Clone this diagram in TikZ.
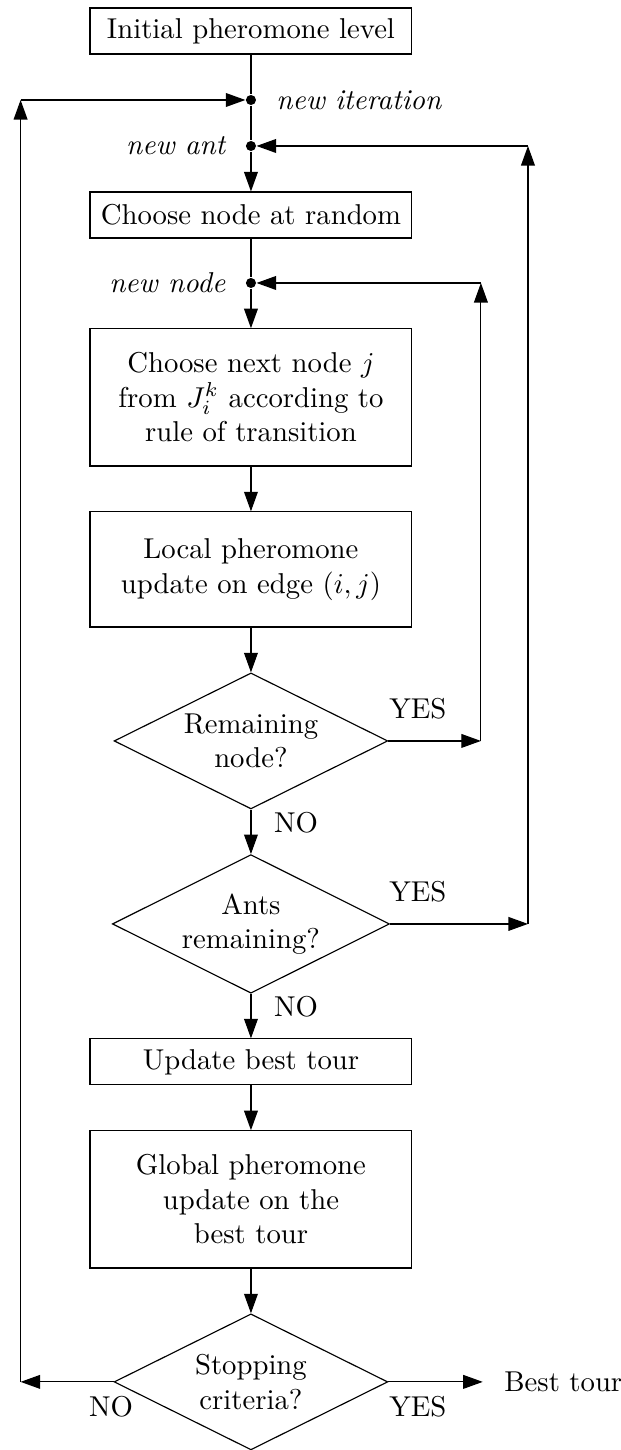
\documentclass[tikz,border=0pt]{standalone}
\usetikzlibrary{shapes.geometric,arrows.meta}
\begin{document}
\begin{tikzpicture}[>={Triangle[length=6.8pt,width=4.8pt]},
box node/.style={rectangle,draw,minimum width=3.94cm,minimum height=0.563cm,align=center},
dec node/.style={diamond,draw,aspect=2,inner sep=1pt,minimum width=3.35cm,minimum height=1.665cm,align=center},
dot node/.style={circle,fill,minimum size=3.5pt,inner sep=0pt}]
\useasboundingbox (0,0) rectangle (7.59,-17.75);
\node [box node](b0) at (3.072,-0.379) {Initial pheromone level};
\node [dot node](it) at (3.072,-1.224) {};
\node [dot node](ant) at (3.072,-1.787) {};
\node [box node](b1) at (3.072,-2.632) {Choose node at random};
\node [dot node](nn) at (3.072,-3.464) {};
\node [box node,minimum height=1.68cm](b2) at (3.072,-4.865) {Choose next node $j$\\ from $J_i^k$ according to\\ rule of transition};
\node [box node,minimum height=1.41cm](b3) at (3.072,-6.971) {Local pheromone\\ update on edge $(i,j)$};
\node [dec node](d0) at (3.072,-9.070) {Remaining\\ node?};
\node [dec node](d1) at (3.072,-11.310) {Ants\\ remaining?};
\node [box node](b4) at (3.072,-12.999) {Update best tour};
\node [box node,minimum height=1.68cm](b5) at (3.072,-14.682) {Global pheromone\\ update on the\\ best tour};
\node [dec node](d2) at (3.072,-16.916) {Stopping\\ criteria?};
\node (best) [anchor=west] at (6.05,-16.916) {Best tour};
% corners of the loops
\coordinate (c0) at (5.887,-9.070);
\coordinate (c1) at (5.887,-3.464);
\coordinate (c2) at (6.463,-11.310);
\coordinate (c3) at (6.463,-1.787);
\coordinate (c4) at (0.252,-16.916);
\coordinate (c5) at (0.252,-1.224);
% labels
\node (lit) [anchor=west] at (3.26,-1.224) {\textit{new iteration}};
\node (lant) [anchor=east] at (2.896,-1.787) {\textit{new ant}};
\node (lnn) [anchor=east] at (2.884,-3.464) {\textit{new node}};
\node (y0) at (5.116,-8.678) {YES};
\node (n0) at (3.623,-10.073) {NO};
\node (y1) at (5.116,-10.918) {YES};
\node (n1) at (3.623,-12.326) {NO};
\node (n2) at (1.359,-17.222) {NO};
\node (y2) at (5.116,-17.222) {YES};
\draw (b0) -- (it);
\draw (it) -- (ant);
\draw [->] (ant) -- (b1);
\draw (b1) -- (nn);
\draw [->] (nn) -- (b2);
\draw [->] (b2) -- (b3);
\draw [->] (b3) -- (d0);
\draw [->] (d0) -- (d1);
\draw [->] (d1) -- (b4);
\draw [->] (b4) -- (b5);
\draw [->] (b5) -- (d2);
\draw [->] (d0.east) -- (c0);
\draw [->] (c0) -- (c1);
\draw [->] (c1) -- (nn);
\draw [->] (d1.east) -- (c2);
\draw [->] (c2) -- (c3);
\draw [->] (c3) -- (ant);
\draw [->] (d2.west) -- (c4);
\draw [->] (c4) -- (c5);
\draw [->] (c5) -- (it);
\draw [->,shorten >=4pt] (d2.east) -- (best);
\end{tikzpicture}
\end{document}
